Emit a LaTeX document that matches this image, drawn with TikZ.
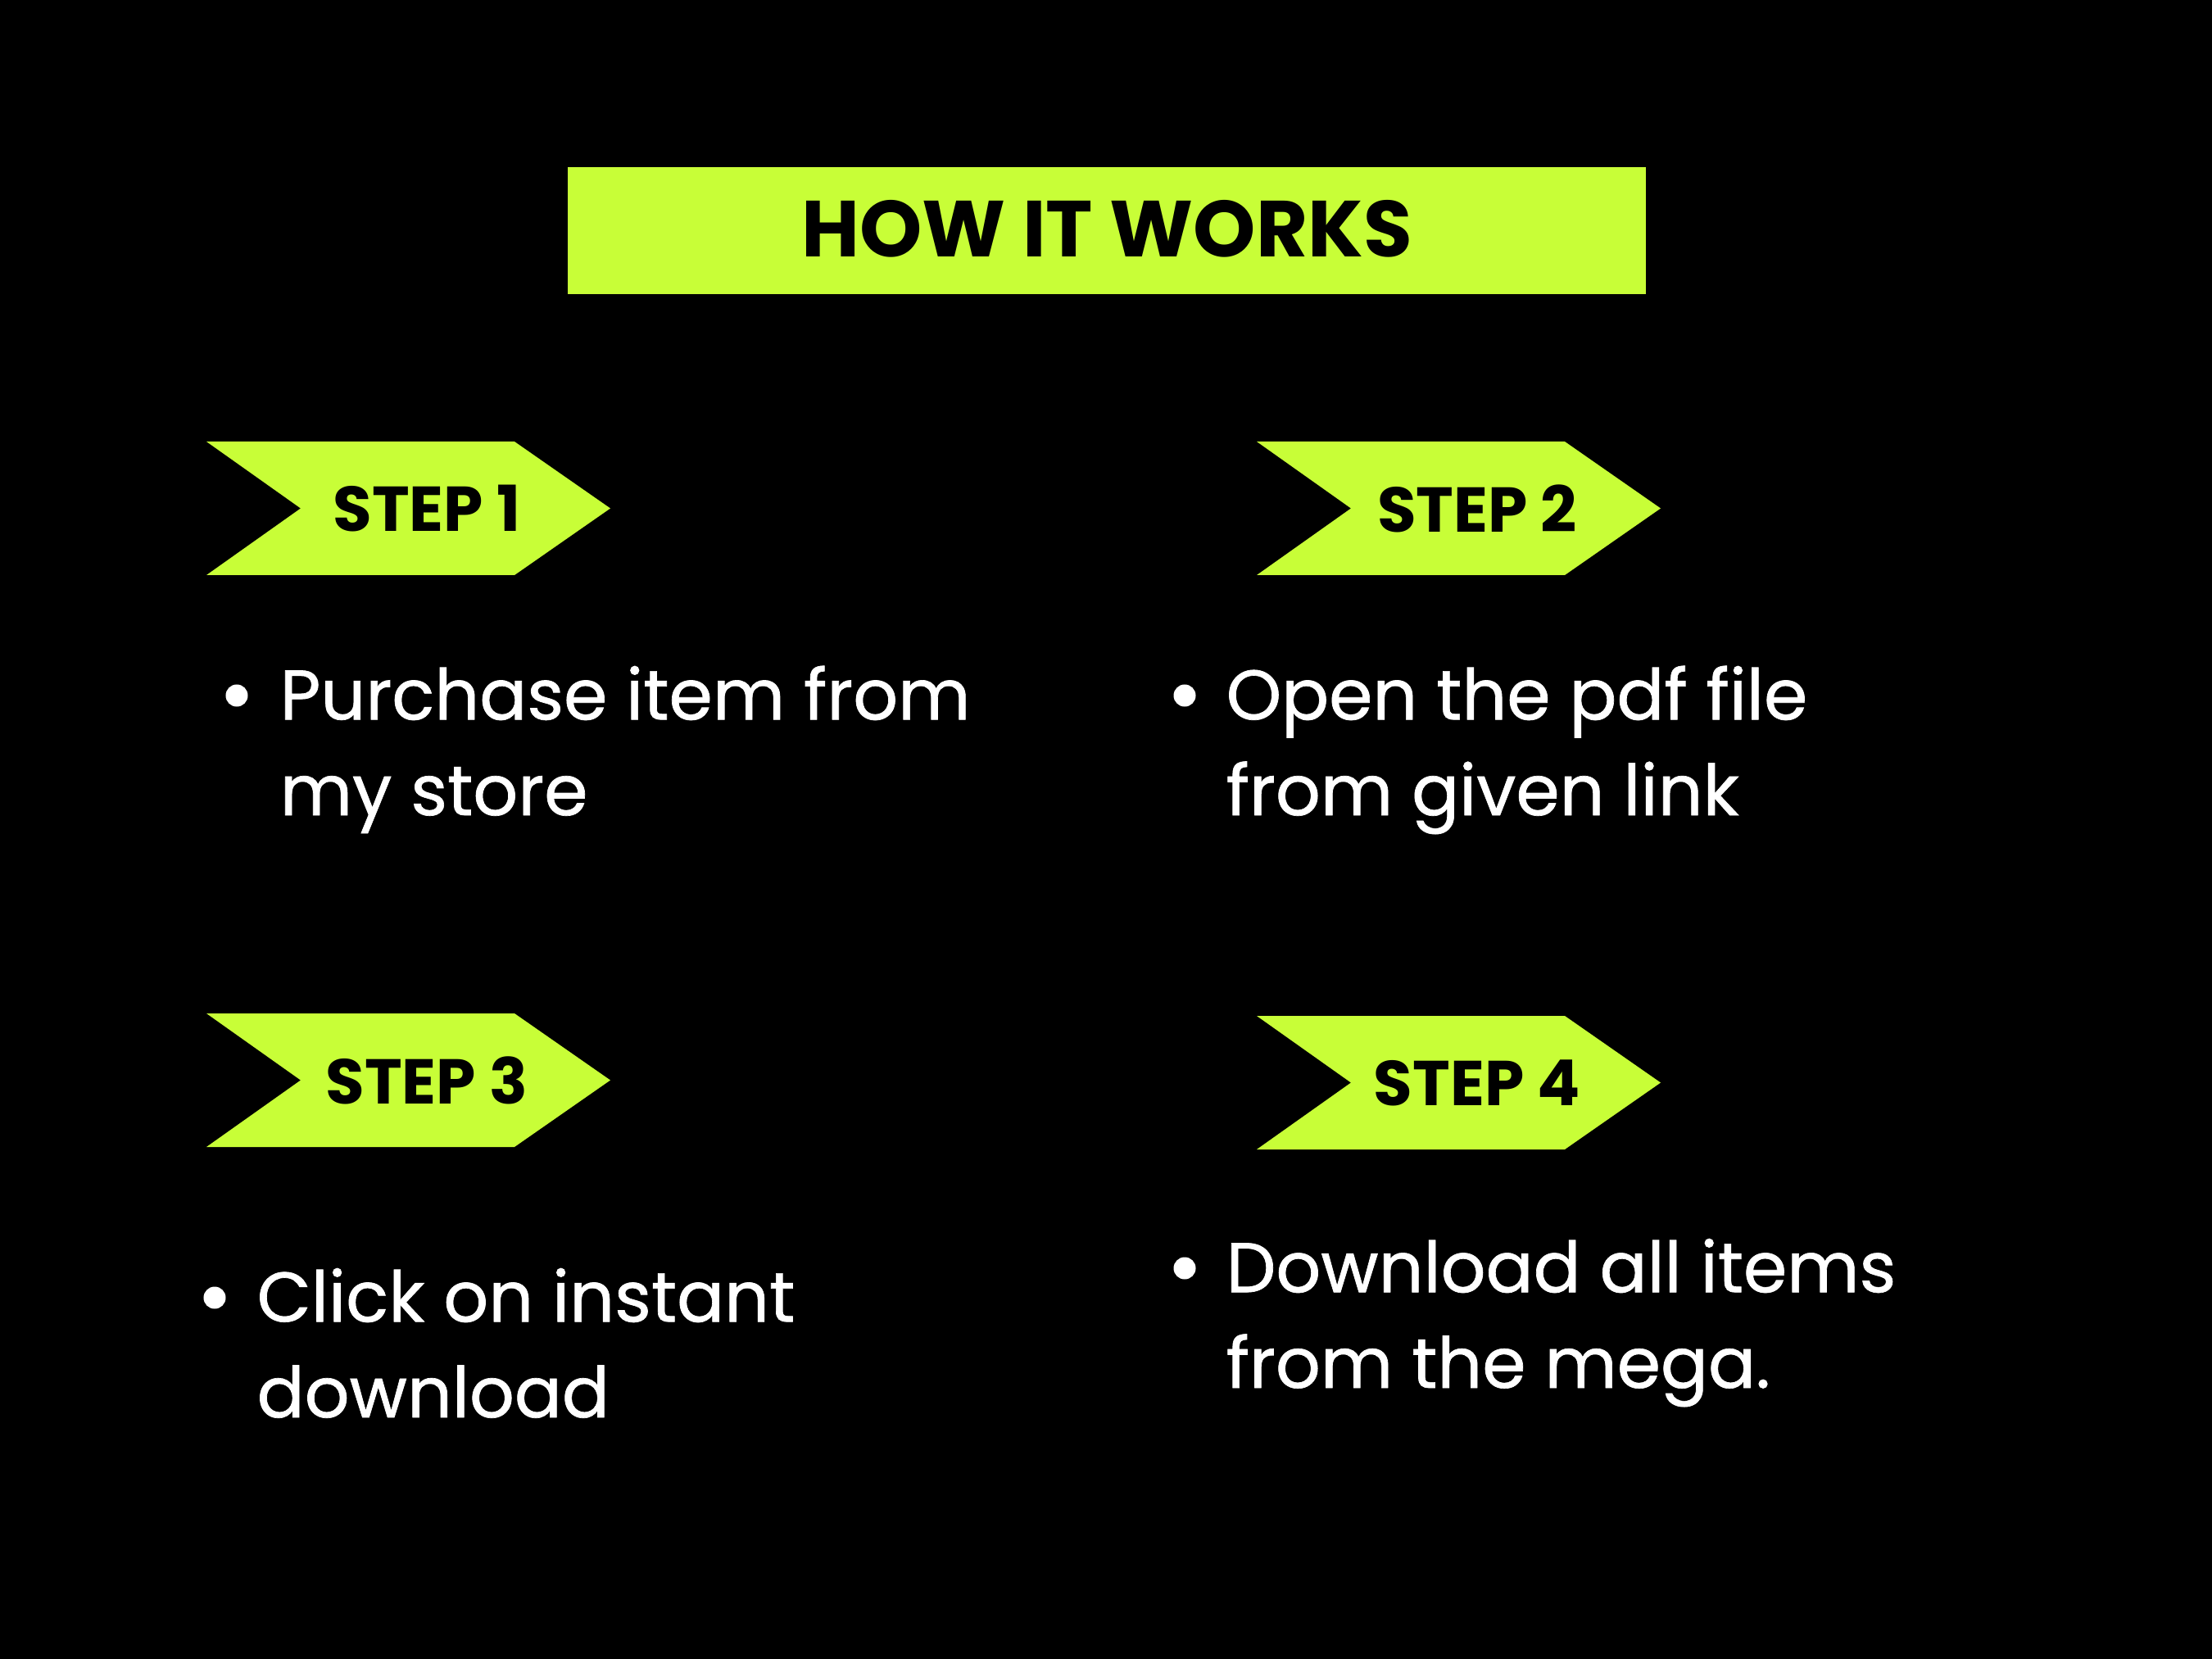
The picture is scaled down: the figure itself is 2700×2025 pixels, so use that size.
\documentclass[tikz,border=0pt]{standalone}
\usepackage{fontspec}
\setmainfont{Poppins}
\newfontfamily\bodyfont{Poppins}[FakeBold=0.8]
\definecolor{lime}{HTML}{C8FE37}
\tikzset{
  chevron/.style={fill=lime},
  steplabel/.style={font=\fontsize{22}{26}\selectfont\bfseries, text=black, inner sep=0pt},
  body/.style={font=\fontsize{24.4}{33.2}\bodyfont, text=white, align=left, anchor=base west, inner sep=0pt},
  bullet/.style={circle, fill=white, minimum size=0.27cm, inner sep=0pt},
}
\begin{document}
\begin{tikzpicture}[x=0.01cm,y=-0.01cm]
\fill[black] (0,0) rectangle (2700,2025);
\useasboundingbox (0,0) rectangle (2700,2025);
% title
\node[fill=lime, minimum width=13.16cm, minimum height=1.55cm, inner sep=0pt, anchor=north west,
  font=\fontsize{27.6}{32}\selectfont\bfseries] (title) at (692,203) {\raisebox{1.5pt}{HOW IT WORKS}};
% chevrons
\fill[chevron] (252,539) -- ++(376,0) -- ++(117,81.5) -- ++(-117,81.5) -- ++(-376,0) -- ++(115,-81.5) -- cycle;
\node[steplabel] (s1) at (521,620.5) {STEP 1};
\fill[chevron] (1534,539) -- ++(376,0) -- ++(117,81.5) -- ++(-117,81.5) -- ++(-376,0) -- ++(115,-81.5) -- cycle;
\node[steplabel] (s2) at (1803,620.5) {STEP 2};
\fill[chevron] (252,1237) -- ++(376,0) -- ++(117,81.5) -- ++(-117,81.5) -- ++(-376,0) -- ++(115,-81.5) -- cycle;
\node[steplabel] (s3) at (521,1318.5) {STEP 3};
\fill[chevron] (1534,1240) -- ++(376,0) -- ++(117,81.5) -- ++(-117,81.5) -- ++(-376,0) -- ++(115,-81.5) -- cycle;
\node[steplabel] (s4) at (1803,1321.5) {STEP 4};
% bodies (anchor at baseline of last line)
\node[bullet] (b1) at (289,849) {};
\node[body] (t1) at (341,995) {Purchase item from\\my store};
\node[bullet] (b2) at (1446,849) {};
\node[body] (t2) at (1496,995) {Open the pdf file\\from given link};
\node[bullet] (b3) at (262,1584) {};
\node[body] (t3) at (313,1730) {Click on instant\\download};
\node[bullet] (b4) at (1446,1548) {};
\node[body] (t4) at (1496,1694) {Download all items\\from the mega.};
\end{tikzpicture}
\end{document}
